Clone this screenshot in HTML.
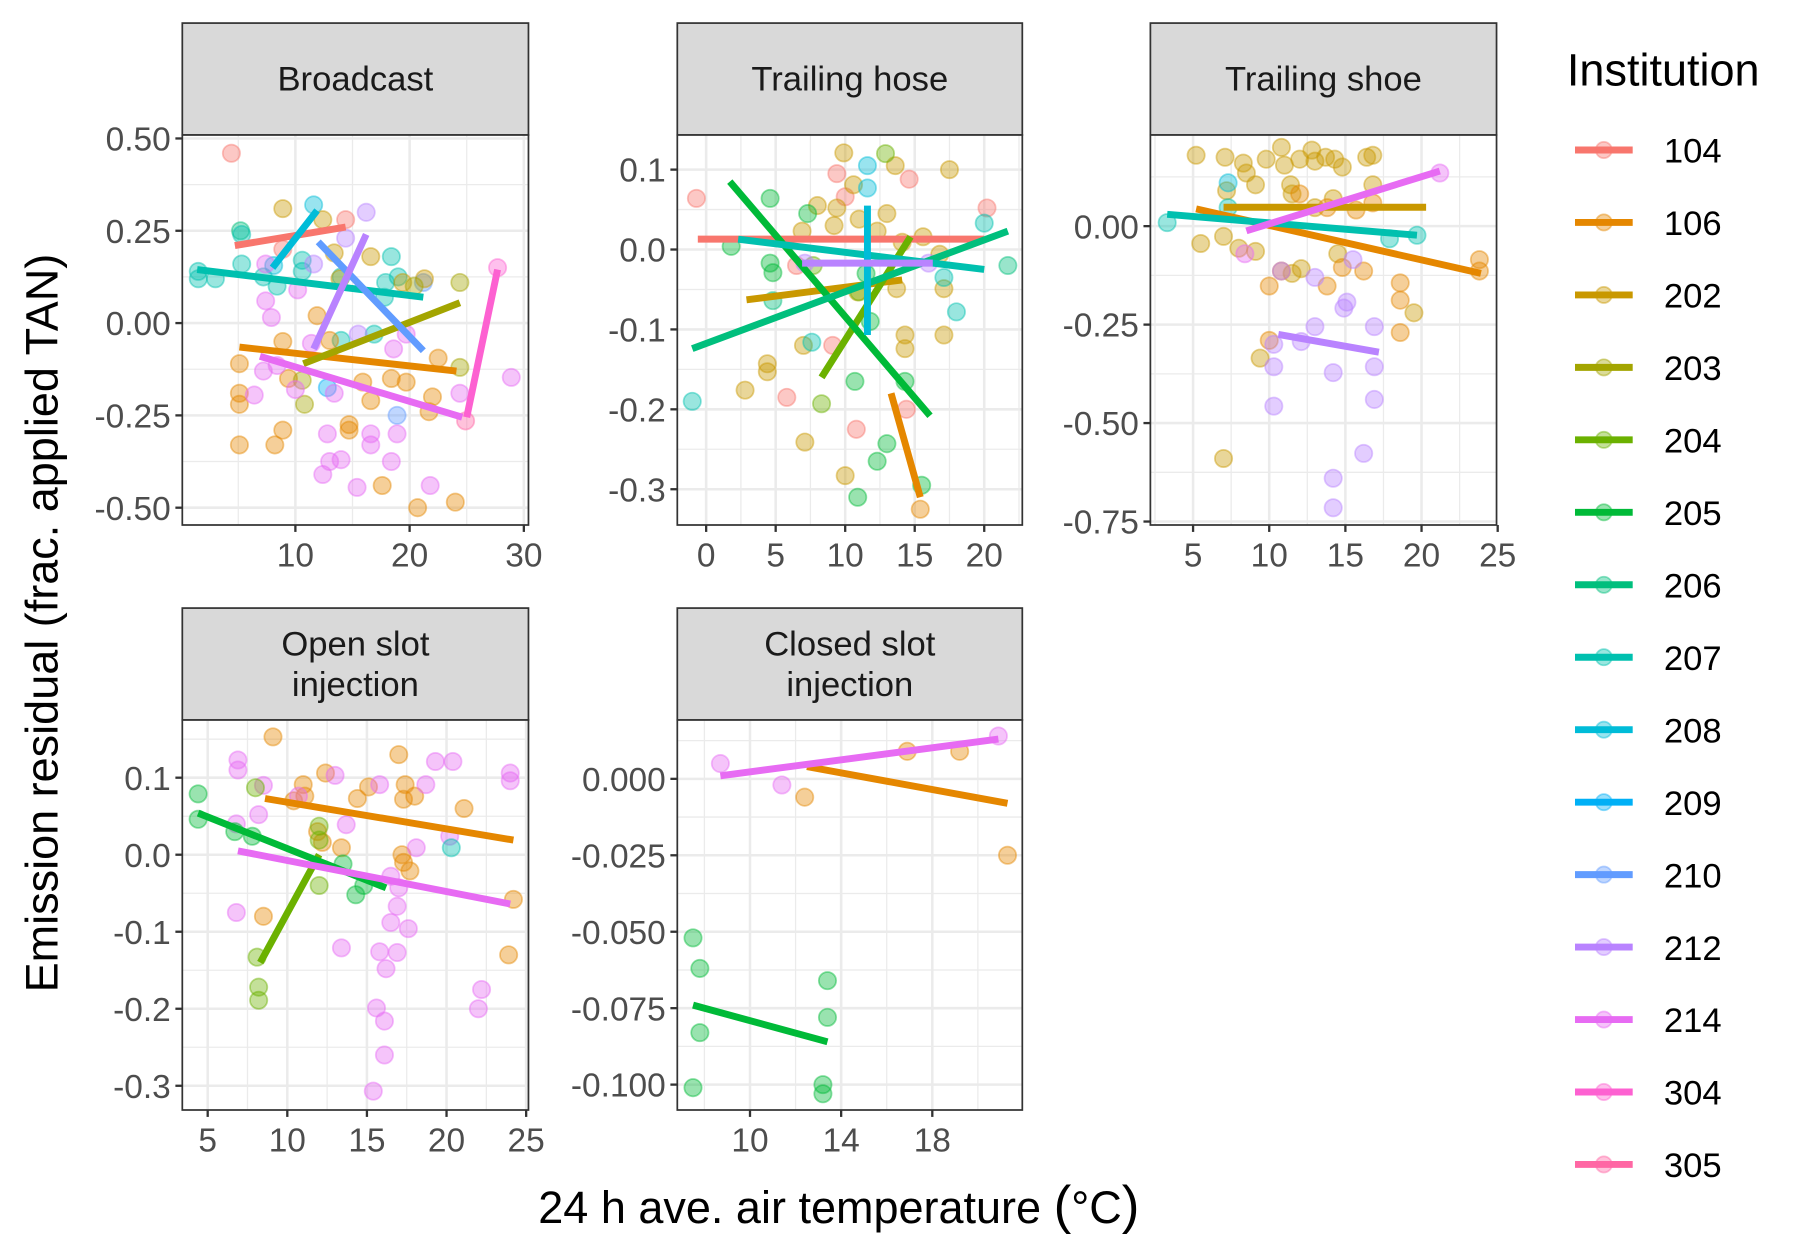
<!DOCTYPE html>
<html><head><meta charset="utf-8">
<style>
html,body{margin:0;padding:0;background:#fff;}
svg{display:block;font-family:"Liberation Sans","DejaVu Sans",sans-serif;}
</style></head>
<body>
<svg id="chart" width="1800" height="1260" viewBox="0 0 1560 1092" xmlns="http://www.w3.org/2000/svg">
<rect x="0" y="0" width="1560" height="1092" fill="#fff"/>
<text x="0" y="0" transform="translate(50,540) rotate(-90)" text-anchor="middle" font-size="39" fill="#000">Emission residual (frac. applied TAN)</text>
<text x="727" y="1060" text-anchor="middle" font-size="39" fill="#000">24 h ave. air temperature <tspan font-size="46">(</tspan>°C<tspan font-size="46">)</tspan></text>
<g id="panels"></g>
<g id="legend"></g>
</svg>
<script>
// ---- data ----
const institutions = ["104","106","202","203","204","205","206","207","208","209","210","212","214","304","305"];
const colors = ["#F8766D","#E58700","#C99800","#A3A500","#6BB100","#00BA38","#00BF7D","#00C0AF","#00BCD8","#00B0F6","#619CFF","#B983FF","#E76BF3","#FD61D1","#FF67A4"];
const panelTitles = [["Broadcast"],["Trailing hose"],["Trailing shoe"],["Open slot","injection"],["Closed slot","injection"]];
const xTicks = [[10,20,30],[0,5,10,15,20],[5,10,15,20,25],[5,10,15,20,25],[10,14,18]];
const yTicks = [[0.5,0.25,0,-0.25,-0.5],[0.1,0,-0.1,-0.2,-0.3],[0,-0.25,-0.5,-0.75],[0.1,0,-0.1,-0.2,-0.3],[0,-0.025,-0.05,-0.075,-0.1]];
const yTickLabels = [["0.50","0.25","0.00","-0.25","-0.50"],["0.1","0.0","-0.1","-0.2","-0.3"],["0.00","-0.25","-0.50","-0.75"],["0.1","0.0","-0.1","-0.2","-0.3"],["0.000","-0.025","-0.050","-0.075","-0.100"]];

// fitted lines: [institution, x1, y1, x2, y2]
const lines1 = [["104",4.7,0.21,14.4,0.26],["106",5.1,-0.065,24.1,-0.13],["203",10.7,-0.11,24.4,0.055],["207",1.4,0.145,21.2,0.07],["208",8,0.15,11.9,0.305],["210",12,0.22,21.2,-0.075],["212",11.6,-0.07,16.2,0.24],["214",6.9,-0.09,24.6,-0.255],["304",25,-0.255,27.7,0.145]];
const lines2 = [["104",-0.6,0.013,20,0.013],["106",13.3,-0.18,15.4,-0.31],["202",2.9,-0.063,14.1,-0.038],["204",8.3,-0.16,14.7,0.016],["205",1.7,0.085,16.1,-0.208],["206",-1,-0.124,21.7,0.023],["207",2.3,0.013,20,-0.025],["208",11.6,0.055,11.6,-0.107],["212",6.9,-0.017,16.3,-0.017]];
const lines3 = [["106",5.2,0.044,23.9,-0.12],["202",7.0,0.048,20.3,0.048],["207",3.3,0.03,19.7,-0.023],["212",10.6,-0.275,17.2,-0.32],["214",8.5,-0.012,21.2,0.14]];
const lines4 = [["106",8.6,0.073,24.2,0.019],["204",8.3,-0.14,12,0.0],["205",4.4,0.054,16.2,-0.043],["214",6.9,0.005,24,-0.064]];
const lines5 = [["106",12.5,0.004,21.3,-0.008],["205",7.5,-0.074,13.4,-0.086],["214",8.7,0.001,20.9,0.013]];

// points: [institution, x, y]
const points1 = [["104",4.4,0.46],["104",14.4,0.28],["104",8.9,0.2],
["207",1.5,0.14],["207",1.5,0.12],["207",3,0.12],["206",5.2,0.25],["207",5.3,0.24],["207",5.3,0.16],["207",7.2,0.125],["207",8.4,0.1],["207",10.6,0.17],["207",10.6,0.14],["207",14,0.125],["207",18.4,0.18],["207",17.9,0.11],["207",19,0.125],["207",17.8,0.07],["207",14,-0.047],["207",16.9,-0.03],
["208",11.6,0.32],["208",8.1,0.156],["210",21.2,0.11],["210",18.9,-0.25],["209",12.8,-0.175],
["202",8.9,0.31],["202",12.4,0.28],["202",16.6,0.18],["202",13.4,0.19],["202",19.4,0.11],["202",21.3,0.12],["202",13.9,0.12],
["106",5.1,-0.11],["106",5.1,-0.19],["106",5.1,-0.22],["106",5.1,-0.33],["106",8.2,-0.33],["106",8.9,-0.05],["106",9.4,-0.15],["106",11.9,0.02],["106",13,-0.047],["106",15.9,-0.16],["106",14.7,-0.275],["106",14.7,-0.29],["106",16.6,-0.21],["106",18.4,-0.15],["106",19.7,-0.16],["106",22.5,-0.095],["106",22,-0.2],["106",21.7,-0.24],["106",17.6,-0.44],["106",20.7,-0.5],["106",24,-0.485],["106",8.9,-0.29],
["203",24.4,0.11],["203",24.4,-0.12],["203",10.8,-0.22],["203",10.6,-0.155],["203",20.4,0.1],
["212",16.2,0.3],["212",14.4,0.23],["212",11.6,0.16],["212",15.5,-0.03],
["214",7.4,0.06],["214",7.9,0.015],["214",7.2,-0.13],["214",6.4,-0.195],["214",8.4,-0.115],["214",10,-0.18],["214",12.8,-0.3],["214",14,-0.37],["214",13,-0.375],["214",16.6,-0.3],["214",16.6,-0.33],["214",18.9,-0.3],["214",18.4,-0.375],["214",12.4,-0.41],["214",15.4,-0.445],["214",21.8,-0.44],["214",24.4,-0.19],["214",19.7,-0.03],["214",28.9,-0.147],["214",13.4,-0.19],["214",11.4,-0.055],["214",18.6,-0.07],["214",10.2,0.09],["214",7.4,0.16],
["304",27.7,0.15],["305",24.9,-0.265]];
const points2 = [["104",-0.7,0.064],["104",9.4,0.095],["104",10,0.066],["104",14.6,0.088],["104",20.2,0.052],["104",6.5,-0.02],["104",9.1,-0.12],["104",5.8,-0.185],["104",10.8,-0.225],["104",14.4,-0.2],
["202",9.9,0.121],["202",13.6,0.105],["202",17.5,0.1],["202",8,0.055],["202",9.4,0.052],["202",12.3,0.023],["202",14.1,0.009],["202",15.6,0.016],["202",16.8,-0.006],["202",2.8,-0.176],["202",4.4,-0.143],["202",4.4,-0.153],["202",7,-0.12],["202",7.1,-0.241],["202",10,-0.283],["202",10.9,-0.053],["202",13.7,-0.049],["202",14.3,-0.107],["202",14.3,-0.124],["202",17.1,-0.049],["202",17.1,-0.107],["202",13,0.045],["202",10.6,0.081],["202",6.9,0.023],["202",9.2,0.03],["202",11,0.038],
["204",12.9,0.12],["204",11,-0.053],["204",8.3,-0.193],["204",7.7,-0.02],
["205",4.6,0.064],["205",1.8,0.004],["205",4.6,-0.017],["205",4.8,-0.029],["205",7.3,0.045],["205",11.5,-0.03],["205",11.8,-0.09],["205",10.7,-0.165],["205",12.3,-0.265],["205",13,-0.243],["205",15.5,-0.295],["205",10.9,-0.31],["205",14.3,-0.165],
["207",-1,-0.19],["206",4.8,-0.064],["206",21.7,-0.02],["207",18,-0.078],["207",20,0.033],["207",17.1,-0.035],["207",7.6,-0.116],
["208",11.6,0.105],["208",11.6,0.077],["212",7.1,-0.017],["212",16,-0.017],["106",15.4,-0.325]];
const points3 = [["202",5.2,0.18],["202",7.1,0.175],["202",8.3,0.16],["202",8.5,0.135],["202",9.8,0.17],["202",10.8,0.2],["202",11,0.155],["202",12,0.17],["202",12.8,0.193],["202",13,0.165],["202",13.7,0.175],["202",14.3,0.17],["202",14.8,0.15],["202",16.4,0.175],["202",16.8,0.18],["202",7.2,0.09],["202",9.1,0.105],["202",11.4,0.105],["202",11.5,0.082],["202",13,0.047],["202",14.2,0.07],["202",16.8,0.105],["202",5.5,-0.044],["202",7,-0.026],["202",8,-0.056],["202",9.1,-0.064],["202",11.5,-0.12],["202",12.1,-0.108],["202",7,-0.59],["202",14.5,-0.07],["202",19.5,-0.22],["202",9.4,-0.335],
["106",12,0.082],["106",13.8,0.047],["106",15.7,0.041],["106",16.8,0.059],["106",14.8,-0.105],["106",13.8,-0.152],["106",10.8,-0.114],["106",10,-0.152],["106",18.6,-0.144],["106",18.6,-0.188],["106",18.6,-0.27],["106",10,-0.29],["106",23.8,-0.085],["106",23.8,-0.114],["106",16.2,-0.114],
["207",3.3,0.009],["207",7.3,0.047],["208",7.3,0.11],["207",19.7,-0.023],["207",17.9,-0.032],
["212",10.3,-0.3],["212",10.3,-0.357],["212",10.3,-0.457],["212",12.1,-0.293],["212",13,-0.255],["212",14.9,-0.208],["212",15.1,-0.193],["212",16.9,-0.255],["212",16.9,-0.357],["212",16.9,-0.44],["212",16.2,-0.577],["212",14.2,-0.64],["212",14.2,-0.715],["212",14.2,-0.372],["212",10.8,-0.114],["212",13,-0.13],["212",15.5,-0.085],
["214",21.2,0.135],["214",8.4,-0.07]];
const points4 = [["106",9.1,0.153],["106",12.4,0.106],["106",11,0.091],["106",11.1,0.076],["106",15.1,0.088],["106",14.4,0.073],["106",17,0.13],["106",17.4,0.091],["106",17.3,0.072],["106",18,0.076],["106",21.1,0.06],["106",17.2,0],["106",17.3,-0.01],["106",11.9,0.03],["106",13.4,0.009],["106",8.5,-0.08],["106",24.2,-0.058],["106",23.9,-0.13],["106",10.4,0.07],["106",12.2,0.016],["106",17.7,-0.021],
["214",6.9,0.123],["214",6.9,0.11],["214",6.8,0.04],["214",8.2,0.052],["214",8.5,0.09],["214",10.7,0.076],["214",13,0.103],["214",15.8,0.091],["214",19.3,0.121],["214",20.4,0.121],["214",18.7,0.091],["214",24,0.106],["214",24,0.096],["214",20.2,0.024],["214",18.1,0.009],["214",16.5,-0.028],["214",17,-0.043],["214",16.9,-0.067],["214",16.5,-0.088],["214",17.6,-0.096],["214",6.8,-0.075],["214",13.4,-0.121],["214",15.8,-0.126],["214",16.2,-0.148],["214",16.9,-0.127],["214",22.2,-0.175],["214",22,-0.2],["214",15.6,-0.199],["214",16.1,-0.216],["214",16.1,-0.26],["214",15.4,-0.307],["214",13.7,0.039],
["204",8,0.087],["204",12,0.037],["204",12,0.019],["204",12,-0.04],["204",8.1,-0.133],["204",8.2,-0.172],["204",8.2,-0.189],
["205",4.4,0.079],["205",4.4,0.046],["205",6.7,0.03],["205",7.8,0.024],["205",13.5,-0.012],["205",14.3,-0.052],["205",14.8,-0.04],["207",20.3,0.009]];
const points5 = [["214",8.7,0.005],["214",11.4,-0.002],["106",12.4,-0.006],["106",16.9,0.009],["106",19.2,0.009],["214",20.9,0.014],["106",21.3,-0.025],
["205",7.5,-0.052],["205",7.8,-0.062],["205",7.8,-0.083],["205",7.5,-0.101],["205",13.4,-0.066],["205",13.4,-0.078],["205",13.2,-0.1],["205",13.2,-0.103]];

const allLines = [lines1,lines2,lines3,lines4,lines5];
const allPoints = [points1,points2,points3,points4,points5];

// ---- layout (pixel boxes and axis anchors, not data) ----
const boxes = [
 {x0:158,x1:458,sy:20,y0:117,y1:455, ax:[10,256,20,355], ay:[0.5,120,-0.5,440]},
 {x0:587,x1:886,sy:20,y0:117,y1:455, ax:[0,612,20,853], ay:[0.1,147,-0.3,424]},
 {x0:997,x1:1297,sy:20,y0:117,y1:455, ax:[5,1034,25,1298], ay:[0,196,-0.75,452]},
 {x0:158,x1:458,sy:527,y0:624,y1:962, ax:[5,180,25,456], ay:[0.1,674,-0.3,941]},
 {x0:587,x1:886,sy:527,y0:624,y1:962, ax:[10,650,18,808], ay:[0,675,-0.1,940]}
];
const NS="http://www.w3.org/2000/svg";
function mk(tag, attrs, parent){const e=document.createElementNS(NS,tag);for(const k in attrs)e.setAttribute(k,attrs[k]);parent.appendChild(e);return e;}
function colorOf(inst){return colors[institutions.indexOf(inst)];}
const panelsG=document.getElementById('panels');
const svg=document.getElementById('chart');
const defs=mk('defs',{},svg);

boxes.forEach((b,i)=>{
  const xs=v=>b.ax[1]+(v-b.ax[0])*(b.ax[3]-b.ax[1])/(b.ax[2]-b.ax[0]);
  const ys=v=>b.ay[1]+(v-b.ay[0])*(b.ay[3]-b.ay[1])/(b.ay[2]-b.ay[0]);
  const g=mk('g',{},panelsG);
  
  
  const cp=mk('clipPath',{id:'cp'+i},defs);
  mk('rect',{x:b.x0,y:b.y0,width:b.x1-b.x0,height:b.y1-b.y0},cp);
  const strip=mk('rect',{x:b.x0,y:b.sy,width:b.x1-b.x0,height:b.y0-b.sy,fill:'#d9d9d9',stroke:'#333','stroke-width':1.5},g);
  
  
  const tl=panelTitles[i];
  tl.forEach((t,k)=>{
    const cy=(b.sy+b.y0)/2+10+(k-(tl.length-1)/2)*35;
    const tx=mk('text',{x:(b.x0+b.x1)/2,y:cy,'text-anchor':'middle','font-size':30,fill:'#1a1a1a'},g);
    tx.textContent=t;
    
    
  });
  mk('rect',{x:b.x0,y:b.y0,width:b.x1-b.x0,height:b.y1-b.y0,fill:'#fff'},g);
  const gg=mk('g',{'clip-path':'url(#cp'+i+')'},g);
  const xt=xTicks[i], yt=yTicks[i];
  const xstep=xt[1]-xt[0], ystep=yt[1]-yt[0];
  for(let k=-2;k<xt.length+2;k++){
    const v=xt[0]+k*xstep;
    mk('line',{x1:xs(v),x2:xs(v),y1:b.y0,y2:b.y1,stroke:'#ebebeb','stroke-width':2.2},gg);
    const m=v+xstep/2;
    mk('line',{x1:xs(m),x2:xs(m),y1:b.y0,y2:b.y1,stroke:'#ebebeb','stroke-width':1.1},gg);
  }
  for(let k=-2;k<yt.length+2;k++){
    const v=yt[0]+k*ystep;
    mk('line',{y1:ys(v),y2:ys(v),x1:b.x0,x2:b.x1,stroke:'#ebebeb','stroke-width':2.2},gg);
    const m=v+ystep/2;
    mk('line',{y1:ys(m),y2:ys(m),x1:b.x0,x2:b.x1,stroke:'#ebebeb','stroke-width':1.1},gg);
  }
  const pg=mk('g',{'clip-path':'url(#cp'+i+')'},g);
  allPoints[i].forEach(p=>{
    const c=colorOf(p[0]);
    const el=mk('circle',{cx:xs(p[1]),cy:ys(p[2]),r:7.5,fill:c,'fill-opacity':0.4,stroke:c,'stroke-opacity':0.45,'stroke-width':1.5},pg);
    
    
  });
  allLines[i].forEach(l=>{
    const el=mk('line',{x1:xs(l[1]),y1:ys(l[2]),x2:xs(l[3]),y2:ys(l[4]),stroke:colorOf(l[0]),'stroke-width':6},pg);
    
    
  });
  mk('rect',{x:b.x0,y:b.y0,width:b.x1-b.x0,height:b.y1-b.y0,fill:'none',stroke:'#333','stroke-width':1.5},g);
  xt.forEach(v=>{
    mk('line',{x1:xs(v),x2:xs(v),y1:b.y1,y2:b.y1+6,stroke:'#333','stroke-width':2},g);
    const t=mk('text',{x:xs(v),y:b.y1+36,'text-anchor':'middle','font-size':29,fill:'#4d4d4d'},g);
    t.textContent=String(v);
    
    
  });
  yt.forEach((v,k)=>{
    mk('line',{x1:b.x0-6,x2:b.x0,y1:ys(v),y2:ys(v),stroke:'#333','stroke-width':2},g);
    const t=mk('text',{x:b.x0-10,y:ys(v)+10.5,'text-anchor':'end','font-size':29,fill:'#4d4d4d'},g);
    t.textContent=yTickLabels[i][k];
    
    
  });
});

const lg=document.getElementById('legend');
const lt=mk('text',{x:1358,y:74,'font-size':39,fill:'#000'},lg);
lt.textContent='Institution';


institutions.forEach((inst,k)=>{
  const y=130+k*62.8;
  const eg=mk('g',{},lg);
  
  
  mk('line',{x1:1365,x2:1415,y1:y,y2:y,stroke:colors[k],'stroke-width':6},eg);
  mk('circle',{cx:1390,cy:y,r:7,fill:colors[k],'fill-opacity':0.4,stroke:colors[k],'stroke-opacity':0.45,'stroke-width':1.5},eg);
  const t=mk('text',{x:1442,y:y+11,'font-size':30,fill:'#000'},eg);
  t.textContent=inst;
});
</script>
</body></html>
